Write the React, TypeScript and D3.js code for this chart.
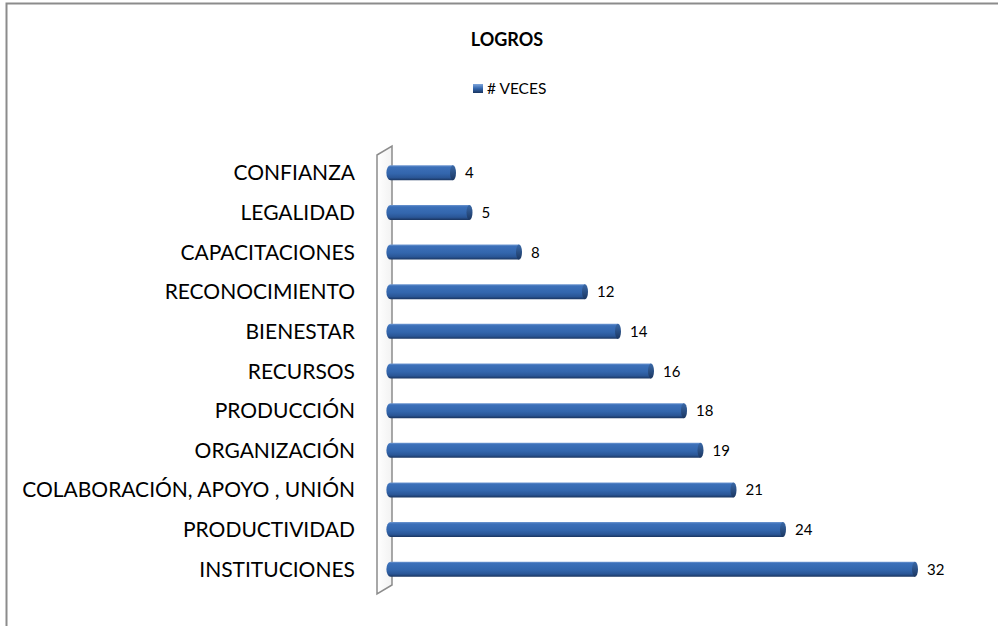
import React from "react";
import * as d3 from "d3";

const categories = [
  "CONFIANZA",
  "LEGALIDAD",
  "CAPACITACIONES",
  "RECONOCIMIENTO",
  "BIENESTAR",
  "RECURSOS",
  "PRODUCCIÓN",
  "ORGANIZACIÓN",
  "COLABORACIÓN, APOYO , UNIÓN",
  "PRODUCTIVIDAD",
  "INSTITUCIONES",
];
const values = [4, 5, 8, 12, 14, 16, 18, 19, 21, 24, 32];
const seriesName = "# VECES";
const title = "LOGROS";

export default function App() {
  const W = 998;
  const H = 626;
  const x = d3.scaleLinear().domain([0, 32]).range([387, 915]);
  const y = d3.scaleBand<string>().domain(categories).range([153, 589]).paddingInner(0.62).paddingOuter(0.31);
  const bh = 15;
  const capW = 3;

  return (
    <svg
      width={W}
      height={H}
      style={{ position: "absolute", left: 0, top: 0, display: "block" }}
      fontFamily="Lato, 'Open Sans', sans-serif"
    >
      <defs>
        <linearGradient id="barg" x1="0" y1="0" x2="0" y2="1">
          <stop offset="0%" stopColor="#6F98D2" />
          <stop offset="12%" stopColor="#3C70B9" />
          <stop offset="55%" stopColor="#3366AD" />
          <stop offset="82%" stopColor="#2A5696" />
          <stop offset="100%" stopColor="#1A3560" />
        </linearGradient>
        <linearGradient id="capg" x1="0" y1="0" x2="0" y2="1">
          <stop offset="0%" stopColor="#3A69A8" />
          <stop offset="100%" stopColor="#1B3762" />
        </linearGradient>
        <linearGradient id="wallg" x1="0" y1="0" x2="1" y2="0">
          <stop offset="0%" stopColor="#FFFFFF" />
          <stop offset="100%" stopColor="#F2F2F2" />
        </linearGradient>
        <linearGradient id="legg" x1="0" y1="0" x2="0" y2="1">
          <stop offset="0%" stopColor="#7FA6DC" />
          <stop offset="50%" stopColor="#3366AD" />
          <stop offset="100%" stopColor="#1A3560" />
        </linearGradient>
      </defs>
      <rect x={0} y={0} width={W} height={H} fill="#fff" />
      <rect x={6.5} y={3.5} width={W + 10} height={H + 10} fill="#fff" stroke="#8C8C8C" strokeWidth={2} />

      <text x={507} y={46} textAnchor="middle" fontSize={18} fontWeight="bold" fill="#000">
        {title}
      </text>

      <rect x={473} y={84} width={10} height={9} fill="url(#legg)" />
      <text x={487} y={94} fontSize={15.5} fill="#000">
        {seriesName}
      </text>

      {/* 3D wall */}
      <path
        d="M377,155 L392,146 L392,585 L377,594 Z"
        fill="url(#wallg)"
        stroke="#8C8C8C"
        strokeWidth={1.5}
      />

      {categories.map((c, i) => {
        const cy = (y(c) as number) + y.bandwidth() / 2;
        const x0 = 383;
        const x1 = x(values[i]);
        const r = bh / 2;
        const d = `M${x0 + r},${cy - r} L${x1},${cy - r} L${x1},${cy + r} L${x0 + r},${cy + r} A${r * 0.55},${r} 0 0 1 ${x0 + r},${cy - r} Z`;
        return (
          <g key={c}>
            <text x={355} y={cy + 7.5} textAnchor="end" fontSize={21} fill="#000">
              {c}
            </text>
            <path d={d} fill="url(#barg)" />
            <ellipse cx={x1} cy={cy} rx={capW} ry={r} fill="url(#capg)" />
            <text x={x1 + 12} y={cy + 5.5} fontSize={15} fill="#000">
              {values[i]}
            </text>
          </g>
        );
      })}
    </svg>
  );
}
